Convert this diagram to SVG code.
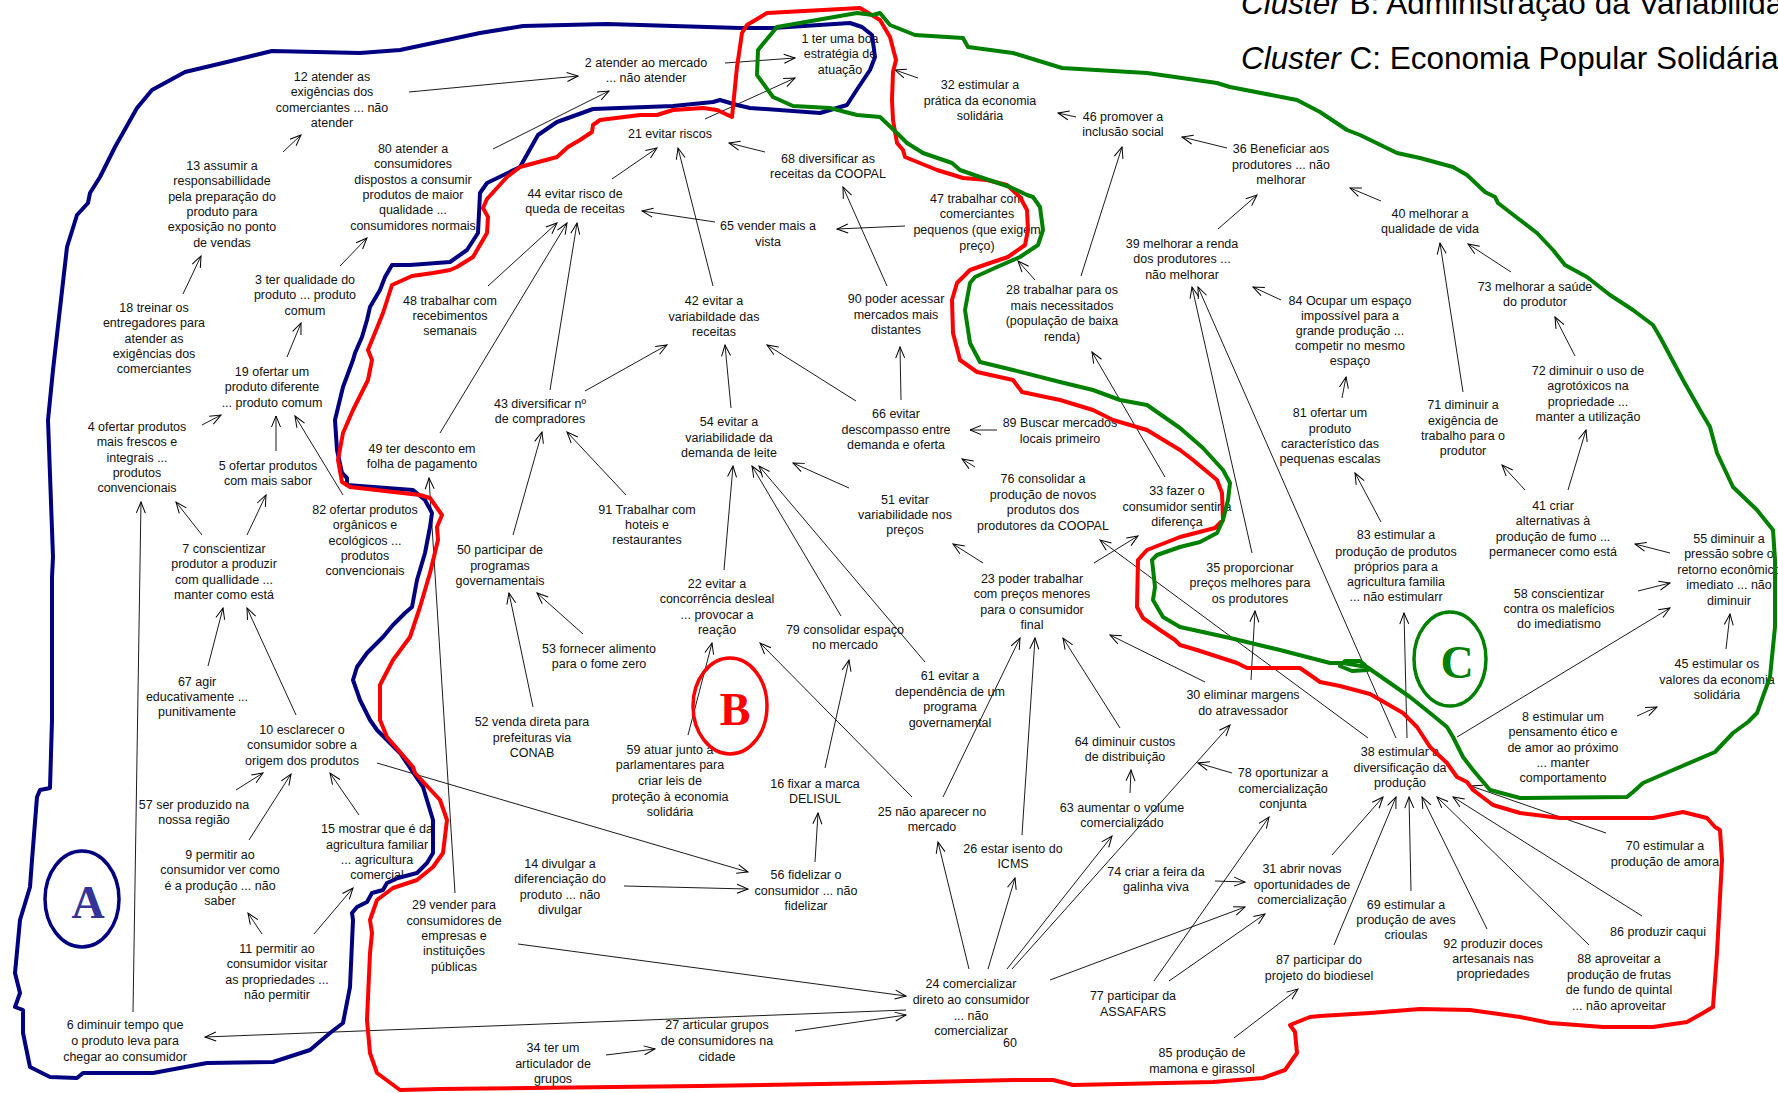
<svg xmlns="http://www.w3.org/2000/svg" width="1778" height="1093" viewBox="0 0 1778 1093">
<style>
  .bg { fill: #ffffff; }
  .node text { font-family: "Liberation Sans", Arial, sans-serif; font-size: 12.5px; fill: #111; text-anchor: middle; }
  .hdr { font-family: "Liberation Sans", Arial, sans-serif; font-size: 31.5px; fill: #000; }
  .edges line { stroke: #000; stroke-width: 0.9; marker-end: url(#ah); }
  .cl { fill: none; stroke-width: 4; stroke-linejoin: round; stroke-linecap: round; }
  .blue { stroke: #000080; }
  .red { stroke: #ff0000; }
  .green { stroke: #008000; }
  .tag { font-family: "Liberation Serif", "Times New Roman", serif; font-size: 46px; font-weight: bold; text-anchor: middle; }
</style>
<defs>
  <marker id="ah" viewBox="-12 -6 13 12" refX="0" refY="0" markerWidth="13" markerHeight="12" markerUnits="userSpaceOnUse" orient="auto">
    <path d="M-11,-4.5 L0,0 L-11,4.5" fill="none" stroke="#000" stroke-width="1"/>
  </marker>
</defs>
<rect class="bg" x="0" y="0" width="1778" height="1093"/>

<!-- header -->
<text class="hdr" x="1241" y="14"><tspan font-style="italic">Cluster</tspan> B: Administração da Variabilidade</text>
<text class="hdr" x="1241" y="69"><tspan font-style="italic">Cluster</tspan> C: Economia Popular Solidária</text>

<!-- connectors -->
<g id="connectors" class="edges">
  <line x1="409" y1="92" x2="578" y2="76"/>
  <line x1="283" y1="152" x2="301" y2="135"/>
  <line x1="340" y1="266" x2="367" y2="238"/>
  <line x1="183" y1="294" x2="201" y2="256"/>
  <line x1="287" y1="357" x2="301" y2="323"/>
  <line x1="725" y1="63" x2="795" y2="58"/>
  <line x1="705" y1="119" x2="795" y2="78"/>
  <line x1="493" y1="149" x2="609" y2="91"/>
  <line x1="612" y1="179" x2="657" y2="148"/>
  <line x1="713" y1="286" x2="678" y2="148"/>
  <line x1="765" y1="152" x2="729" y2="143"/>
  <line x1="715" y1="222" x2="642" y2="211"/>
  <line x1="905" y1="226" x2="837" y2="229"/>
  <line x1="887" y1="286" x2="843" y2="187"/>
  <line x1="488" y1="286" x2="557" y2="223"/>
  <line x1="440" y1="433" x2="567" y2="223"/>
  <line x1="550" y1="390" x2="577" y2="223"/>
  <line x1="918" y1="78" x2="895" y2="70"/>
  <line x1="1076" y1="117" x2="1058" y2="113"/>
  <line x1="1227" y1="148" x2="1182" y2="137"/>
  <line x1="1081" y1="276" x2="1122" y2="147"/>
  <line x1="1218" y1="229" x2="1257" y2="195"/>
  <line x1="1281" y1="300" x2="1253" y2="287"/>
  <line x1="1035" y1="280" x2="1018" y2="261"/>
  <line x1="1165" y1="477" x2="1092" y2="352"/>
  <line x1="1252" y1="553" x2="1192" y2="287"/>
  <line x1="1396" y1="738" x2="1198" y2="287"/>
  <line x1="1368" y1="738" x2="1100" y2="540"/>
  <line x1="1407" y1="738" x2="1404" y2="613"/>
  <line x1="1457" y1="737" x2="1670" y2="608"/>
  <line x1="1381" y1="201" x2="1350" y2="188"/>
  <line x1="1511" y1="272" x2="1468" y2="244"/>
  <line x1="1463" y1="392" x2="1440" y2="243"/>
  <line x1="1575" y1="356" x2="1555" y2="317"/>
  <line x1="1342" y1="398" x2="1346" y2="377"/>
  <line x1="1381" y1="522" x2="1355" y2="473"/>
  <line x1="1525" y1="490" x2="1502" y2="465"/>
  <line x1="1568" y1="490" x2="1586" y2="430"/>
  <line x1="1670" y1="553" x2="1635" y2="544"/>
  <line x1="1638" y1="591" x2="1670" y2="583"/>
  <line x1="1726" y1="649" x2="1730" y2="614"/>
  <line x1="1637" y1="716" x2="1657" y2="707"/>
  <line x1="202" y1="425" x2="221" y2="415"/>
  <line x1="276" y1="451" x2="276" y2="416"/>
  <line x1="343" y1="495" x2="295" y2="416"/>
  <line x1="202" y1="535" x2="176" y2="502"/>
  <line x1="247" y1="535" x2="266" y2="495"/>
  <line x1="208" y1="666" x2="223" y2="608"/>
  <line x1="296" y1="715" x2="247" y2="608"/>
  <line x1="133" y1="1012" x2="141" y2="502"/>
  <line x1="455" y1="893" x2="429" y2="478"/>
  <line x1="585" y1="391" x2="667" y2="345"/>
  <line x1="513" y1="535" x2="542" y2="432"/>
  <line x1="626" y1="495" x2="567" y2="432"/>
  <line x1="724" y1="570" x2="733" y2="466"/>
  <line x1="841" y1="616" x2="752" y2="466"/>
  <line x1="925" y1="662" x2="759" y2="466"/>
  <line x1="849" y1="488" x2="793" y2="463"/>
  <line x1="856" y1="401" x2="767" y2="345"/>
  <line x1="731" y1="408" x2="725" y2="345"/>
  <line x1="583" y1="634" x2="537" y2="593"/>
  <line x1="533" y1="707" x2="509" y2="593"/>
  <line x1="688" y1="735" x2="712" y2="643"/>
  <line x1="912" y1="797" x2="760" y2="643"/>
  <line x1="825" y1="768" x2="849" y2="660"/>
  <line x1="997" y1="430" x2="970" y2="430"/>
  <line x1="975" y1="467" x2="962" y2="459"/>
  <line x1="983" y1="563" x2="953" y2="544"/>
  <line x1="1094" y1="563" x2="1138" y2="536"/>
  <line x1="1205" y1="682" x2="1110" y2="635"/>
  <line x1="1251" y1="680" x2="1255" y2="611"/>
  <line x1="901" y1="400" x2="900" y2="347"/>
  <line x1="943" y1="797" x2="1020" y2="638"/>
  <line x1="1022" y1="835" x2="1035" y2="638"/>
  <line x1="1120" y1="728" x2="1063" y2="638"/>
  <line x1="1130" y1="793" x2="1131" y2="770"/>
  <line x1="969" y1="969" x2="938" y2="842"/>
  <line x1="988" y1="969" x2="1015" y2="878"/>
  <line x1="1007" y1="969" x2="1112" y2="836"/>
  <line x1="1012" y1="969" x2="1230" y2="725"/>
  <line x1="1232" y1="773" x2="1198" y2="763"/>
  <line x1="1050" y1="980" x2="1245" y2="907"/>
  <line x1="1169" y1="981" x2="1265" y2="914"/>
  <line x1="1154" y1="981" x2="1269" y2="817"/>
  <line x1="1215" y1="881" x2="1245" y2="882"/>
  <line x1="1234" y1="1038" x2="1298" y2="989"/>
  <line x1="518" y1="944" x2="906" y2="996"/>
  <line x1="906" y1="1010" x2="205" y2="1037"/>
  <line x1="795" y1="1031" x2="906" y2="1015"/>
  <line x1="606" y1="1055" x2="655" y2="1049"/>
  <line x1="624" y1="886" x2="748" y2="889"/>
  <line x1="377" y1="763" x2="748" y2="872"/>
  <line x1="815" y1="862" x2="818" y2="813"/>
  <line x1="236" y1="790" x2="263" y2="773"/>
  <line x1="249" y1="840" x2="291" y2="774"/>
  <line x1="359" y1="815" x2="330" y2="773"/>
  <line x1="262" y1="934" x2="248" y2="913"/>
  <line x1="314" y1="934" x2="353" y2="888"/>
  <line x1="1332" y1="855" x2="1383" y2="797"/>
  <line x1="1334" y1="945" x2="1396" y2="797"/>
  <line x1="1411" y1="891" x2="1409" y2="797"/>
  <line x1="1487" y1="929" x2="1422" y2="797"/>
  <line x1="1589" y1="945" x2="1437" y2="797"/>
  <line x1="1642" y1="916" x2="1453" y2="797"/>
  <line x1="1606" y1="833" x2="1471" y2="786"/>
</g>

<!-- concept nodes -->
<g class="node" id="n1"><text x="840" y="43"><tspan x="840">1 ter uma boa</tspan><tspan x="840" dy="15.3">estratégia de</tspan><tspan x="840" dy="15.3">atuação</tspan></text></g>
<g class="node" id="n2"><text x="646" y="67"><tspan x="646">2 atender ao mercado</tspan><tspan x="646" dy="15.3">... não atender</tspan></text></g>
<g class="node" id="n3"><text x="305" y="284"><tspan x="305">3 ter qualidade do</tspan><tspan x="305" dy="15.3">produto ... produto</tspan><tspan x="305" dy="15.3">comum</tspan></text></g>
<g class="node" id="n4"><text x="137" y="431"><tspan x="137">4 ofertar produtos</tspan><tspan x="137" dy="15.3">mais frescos e</tspan><tspan x="137" dy="15.3">integrais ...</tspan><tspan x="137" dy="15.3">produtos</tspan><tspan x="137" dy="15.3">convencionais</tspan></text></g>
<g class="node" id="n5"><text x="268" y="470"><tspan x="268">5 ofertar produtos</tspan><tspan x="268" dy="15.3">com mais sabor</tspan></text></g>
<g class="node" id="n6"><text x="125" y="1029"><tspan x="125">6 diminuir tempo que</tspan><tspan x="125" dy="15.8">o produto leva para</tspan><tspan x="125" dy="15.8">chegar ao consumidor</tspan></text></g>
<g class="node" id="n7"><text x="224" y="553"><tspan x="224">7 conscientizar</tspan><tspan x="224" dy="15.3">produtor a produzir</tspan><tspan x="224" dy="15.3">com quallidade ...</tspan><tspan x="224" dy="15.3">manter como está</tspan></text></g>
<g class="node" id="n8"><text x="1563" y="721"><tspan x="1563">8 estimular um</tspan><tspan x="1563" dy="15.3">pensamento ético e</tspan><tspan x="1563" dy="15.3">de amor ao próximo</tspan><tspan x="1563" dy="15.3">... manter</tspan><tspan x="1563" dy="15.3">comportamento</tspan></text></g>
<g class="node" id="n9"><text x="220" y="859"><tspan x="220">9 permitir ao</tspan><tspan x="220" dy="15.3">consumidor ver como</tspan><tspan x="220" dy="15.3">é a produção ... não</tspan><tspan x="220" dy="15.3">saber</tspan></text></g>
<g class="node" id="n10"><text x="302" y="734"><tspan x="302">10 esclarecer o</tspan><tspan x="302" dy="15.3">consumidor sobre a</tspan><tspan x="302" dy="15.3">origem dos produtos</tspan></text></g>
<g class="node" id="n11"><text x="277" y="953"><tspan x="277">11 permitir ao</tspan><tspan x="277" dy="15.3">consumidor visitar</tspan><tspan x="277" dy="15.3">as propriedades ...</tspan><tspan x="277" dy="15.3">não permitir</tspan></text></g>
<g class="node" id="n12"><text x="332" y="81"><tspan x="332">12 atender as</tspan><tspan x="332" dy="15.3">exigências dos</tspan><tspan x="332" dy="15.3">comerciantes ... não</tspan><tspan x="332" dy="15.3">atender</tspan></text></g>
<g class="node" id="n13"><text x="222" y="170"><tspan x="222">13 assumir a</tspan><tspan x="222" dy="15.3">responsabillidade</tspan><tspan x="222" dy="15.3">pela preparação do</tspan><tspan x="222" dy="15.3">produto para</tspan><tspan x="222" dy="15.3">exposição no ponto</tspan><tspan x="222" dy="15.3">de vendas</tspan></text></g>
<g class="node" id="n14"><text x="560" y="868"><tspan x="560">14 divulgar a</tspan><tspan x="560" dy="15.3">diferenciação do</tspan><tspan x="560" dy="15.3">produto ... não</tspan><tspan x="560" dy="15.3">divulgar</tspan></text></g>
<g class="node" id="n15"><text x="377" y="833"><tspan x="377">15 mostrar que é da</tspan><tspan x="377" dy="15.6">agricultura familiar</tspan><tspan x="377" dy="15.3">... agricultura</tspan><tspan x="377" dy="15">comercial</tspan></text></g>
<g class="node" id="n16"><text x="815" y="788"><tspan x="815">16 fixar a marca</tspan><tspan x="815" dy="15.3">DELISUL</tspan></text></g>
<g class="node" id="n18"><text x="154" y="312"><tspan x="154">18 treinar os</tspan><tspan x="154" dy="15.3">entregadores para</tspan><tspan x="154" dy="15.3">atender as</tspan><tspan x="154" dy="15.3">exigências dos</tspan><tspan x="154" dy="15.3">comerciantes</tspan></text></g>
<g class="node" id="n19"><text x="272" y="376"><tspan x="272">19 ofertar um</tspan><tspan x="272" dy="15.3">produto diferente</tspan><tspan x="272" dy="15.3">... produto comum</tspan></text></g>
<g class="node" id="n21"><text x="670" y="138">21 evitar riscos</text></g>
<g class="node" id="n22"><text x="717" y="588"><tspan x="717">22 evitar a</tspan><tspan x="717" dy="15.3">concorrência desleal</tspan><tspan x="717" dy="15.3">... provocar a</tspan><tspan x="717" dy="15.3">reação</tspan></text></g>
<g class="node" id="n23"><text x="1032" y="583"><tspan x="1032">23 poder trabalhar</tspan><tspan x="1032" dy="15.3">com preços menores</tspan><tspan x="1032" dy="15.3">para o consumidor</tspan><tspan x="1032" dy="15.3">final</tspan></text></g>
<g class="node" id="n24"><text x="971" y="988"><tspan x="971">24 comercializar</tspan><tspan x="971" dy="15.8">direto ao consumidor</tspan><tspan x="971" dy="15.8">... não</tspan><tspan x="971" dy="15.8">comercializar</tspan></text></g>
<g class="node" id="n60"><text x="1010" y="1047">60</text></g>
<g class="node" id="n25"><text x="932" y="816"><tspan x="932">25 não aparecer no</tspan><tspan x="932" dy="15.3">mercado</tspan></text></g>
<g class="node" id="n26"><text x="1013" y="853"><tspan x="1013">26 estar isento do</tspan><tspan x="1013" dy="15.3">ICMS</tspan></text></g>
<g class="node" id="n27"><text x="717" y="1029"><tspan x="717">27 articular grupos</tspan><tspan x="717" dy="16">de consumidores na</tspan><tspan x="717" dy="16">cidade</tspan></text></g>
<g class="node" id="n28"><text x="1062" y="294"><tspan x="1062">28 trabalhar para os</tspan><tspan x="1062" dy="15.6">mais necessitados</tspan><tspan x="1062" dy="15.6">(população de baixa</tspan><tspan x="1062" dy="15.3">renda)</tspan></text></g>
<g class="node" id="n29"><text x="454" y="909"><tspan x="454">29 vender para</tspan><tspan x="454" dy="15.6">consumidores de</tspan><tspan x="454" dy="15.3">empresas e</tspan><tspan x="454" dy="15.3">instituições</tspan><tspan x="454" dy="15.6">públicas</tspan></text></g>
<g class="node" id="n30"><text x="1243" y="699"><tspan x="1243">30 eliminar margens</tspan><tspan x="1243" dy="15.6">do atravessador</tspan></text></g>
<g class="node" id="n31"><text x="1302" y="873"><tspan x="1302">31 abrir novas</tspan><tspan x="1302" dy="15.6">oportunidades de</tspan><tspan x="1302" dy="15.3">comercialização</tspan></text></g>
<g class="node" id="n32"><text x="980" y="89"><tspan x="980">32 estimular a</tspan><tspan x="980" dy="15.6">prática da economia</tspan><tspan x="980" dy="15.3">solidária</tspan></text></g>
<g class="node" id="n33"><text x="1177" y="495"><tspan x="1177">33 fazer o</tspan><tspan x="1177" dy="15.6">consumidor sentir a</tspan><tspan x="1177" dy="15.3">diferença</tspan></text></g>
<g class="node" id="n34"><text x="553" y="1052"><tspan x="553">34 ter um</tspan><tspan x="553" dy="15.6">articulador de</tspan><tspan x="553" dy="15.3">grupos</tspan></text></g>
<g class="node" id="n35"><text x="1250" y="572"><tspan x="1250">35 proporcionar</tspan><tspan x="1250" dy="15.3">preços melhores para</tspan><tspan x="1250" dy="15.3">os produtores</tspan></text></g>
<g class="node" id="n36"><text x="1281" y="153"><tspan x="1281">36 Beneficiar aos</tspan><tspan x="1281" dy="15.6">produtores ... não</tspan><tspan x="1281" dy="15.3">melhorar</tspan></text></g>
<g class="node" id="n38"><text x="1400" y="756"><tspan x="1400">38 estimular a</tspan><tspan x="1400" dy="15.6">diversificação da</tspan><tspan x="1400" dy="15.3">produção</tspan></text></g>
<g class="node" id="n39"><text x="1182" y="248"><tspan x="1182">39 melhorar a renda</tspan><tspan x="1182" dy="15.3">dos produtores ...</tspan><tspan x="1182" dy="15.3">não melhorar</tspan></text></g>
<g class="node" id="n40"><text x="1430" y="218"><tspan x="1430">40 melhorar a</tspan><tspan x="1430" dy="15.3">qualidade de vida</tspan></text></g>
<g class="node" id="n41"><text x="1553" y="510"><tspan x="1553">41 criar</tspan><tspan x="1553" dy="15.3">alternativas à</tspan><tspan x="1553" dy="15.6">produção de fumo ...</tspan><tspan x="1553" dy="15.3">permanecer como está</tspan></text></g>
<g class="node" id="n42"><text x="714" y="305"><tspan x="714">42 evitar a</tspan><tspan x="714" dy="15.6">variabildade das</tspan><tspan x="714" dy="15">receitas</tspan></text></g>
<g class="node" id="n43"><text x="540" y="408"><tspan x="540">43 diversificar nº</tspan><tspan x="540" dy="15.3">de compradores</tspan></text></g>
<g class="node" id="n44"><text x="575" y="198"><tspan x="575">44 evitar risco de</tspan><tspan x="575" dy="15.3">queda de receitas</tspan></text></g>
<g class="node" id="n45"><text x="1717" y="668"><tspan x="1717">45 estimular os</tspan><tspan x="1717" dy="15.6">valores da economia</tspan><tspan x="1717" dy="15.6">solidária</tspan></text></g>
<g class="node" id="n46"><text x="1123" y="121"><tspan x="1123">46 promover a</tspan><tspan x="1123" dy="15.3">inclusão social</tspan></text></g>
<g class="node" id="n47"><text x="977" y="203"><tspan x="977">47 trabalhar com</tspan><tspan x="977" dy="15.3">comerciantes</tspan><tspan x="977" dy="15.6">pequenos (que exigem</tspan><tspan x="977" dy="15.6">preço)</tspan></text></g>
<g class="node" id="n48"><text x="450" y="305"><tspan x="450">48 trabalhar com</tspan><tspan x="450" dy="15.3">recebimentos</tspan><tspan x="450" dy="15">semanais</tspan></text></g>
<g class="node" id="n49"><text x="422" y="453"><tspan x="422">49 ter desconto em</tspan><tspan x="422" dy="15.3">folha de pagamento</tspan></text></g>
<g class="node" id="n50"><text x="500" y="554"><tspan x="500">50 participar de</tspan><tspan x="500" dy="15.6">programas</tspan><tspan x="500" dy="15.3">governamentais</tspan></text></g>
<g class="node" id="n51"><text x="905" y="504"><tspan x="905">51 evitar</tspan><tspan x="905" dy="15">variabilidade nos</tspan><tspan x="905" dy="15.3">preços</tspan></text></g>
<g class="node" id="n52"><text x="532" y="726"><tspan x="532">52 venda direta para</tspan><tspan x="532" dy="15.8">prefeituras via</tspan><tspan x="532" dy="15">CONAB</tspan></text></g>
<g class="node" id="n53"><text x="599" y="653"><tspan x="599">53 fornecer alimento</tspan><tspan x="599" dy="15.3">para o fome zero</tspan></text></g>
<g class="node" id="n54"><text x="729" y="426"><tspan x="729">54 evitar a</tspan><tspan x="729" dy="15.6">variabilidade da</tspan><tspan x="729" dy="15.3">demanda de leite</tspan></text></g>
<g class="node" id="n55"><text x="1729" y="543"><tspan x="1729">55 diminuir a</tspan><tspan x="1729" dy="15.3">pressão sobre o</tspan><tspan x="1729" dy="15.3">retorno econômico</tspan><tspan x="1729" dy="15.3">imediato ... não</tspan><tspan x="1729" dy="15.6">diminuir</tspan></text></g>
<g class="node" id="n56"><text x="806" y="879"><tspan x="806">56 fidelizar o</tspan><tspan x="806" dy="15.6">consumidor ... não</tspan><tspan x="806" dy="15.3">fidelizar</tspan></text></g>
<g class="node" id="n57"><text x="194" y="809"><tspan x="194">57 ser produzido na</tspan><tspan x="194" dy="15.3">nossa região</tspan></text></g>
<g class="node" id="n58"><text x="1559" y="598"><tspan x="1559">58 conscientizar</tspan><tspan x="1559" dy="15.3">contra os malefícios</tspan><tspan x="1559" dy="15">do imediatismo</tspan></text></g>
<g class="node" id="n59"><text x="670" y="754"><tspan x="670">59 atuar junto a</tspan><tspan x="670" dy="15.3">parlamentares para</tspan><tspan x="670" dy="15.6">criar leis de</tspan><tspan x="670" dy="15.6">proteção à economia</tspan><tspan x="670" dy="15">solidária</tspan></text></g>
<g class="node" id="n61"><text x="950" y="680"><tspan x="950">61 evitar a</tspan><tspan x="950" dy="15.6">dependência de um</tspan><tspan x="950" dy="15.6">programa</tspan><tspan x="950" dy="15.3">governamental</tspan></text></g>
<g class="node" id="n63"><text x="1122" y="812"><tspan x="1122">63 aumentar o volume</tspan><tspan x="1122" dy="15.3">comercializado</tspan></text></g>
<g class="node" id="n64"><text x="1125" y="746"><tspan x="1125">64 diminuir custos</tspan><tspan x="1125" dy="15.3">de distribuição</tspan></text></g>
<g class="node" id="n65"><text x="768" y="230"><tspan x="768">65 vender mais a</tspan><tspan x="768" dy="15.8">vista</tspan></text></g>
<g class="node" id="n66"><text x="896" y="418"><tspan x="896">66 evitar</tspan><tspan x="896" dy="15.6">descompasso entre</tspan><tspan x="896" dy="15.3">demanda e oferta</tspan></text></g>
<g class="node" id="n67"><text x="197" y="686"><tspan x="197">67 agir</tspan><tspan x="197" dy="15">educativamente ...</tspan><tspan x="197" dy="15">punitivamente</tspan></text></g>
<g class="node" id="n68"><text x="828" y="163"><tspan x="828">68 diversificar as</tspan><tspan x="828" dy="15">receitas da COOPAL</tspan></text></g>
<g class="node" id="n69"><text x="1406" y="909"><tspan x="1406">69 estimular a</tspan><tspan x="1406" dy="15">produção de aves</tspan><tspan x="1406" dy="15">crioulas</tspan></text></g>
<g class="node" id="n70"><text x="1665" y="850"><tspan x="1665">70 estimular a</tspan><tspan x="1665" dy="15.6">produção de amora</tspan></text></g>
<g class="node" id="n71"><text x="1463" y="409"><tspan x="1463">71 diminuir a</tspan><tspan x="1463" dy="15.6">exigência de</tspan><tspan x="1463" dy="15.6">trabalho para o</tspan><tspan x="1463" dy="15">produtor</tspan></text></g>
<g class="node" id="n72"><text x="1588" y="375"><tspan x="1588">72 diminuir o uso de</tspan><tspan x="1588" dy="15">agrotóxicos na</tspan><tspan x="1588" dy="16">propriedade ...</tspan><tspan x="1588" dy="15">manter a utilização</tspan></text></g>
<g class="node" id="n73"><text x="1535" y="291"><tspan x="1535">73 melhorar a saúde</tspan><tspan x="1535" dy="15">do produtor</tspan></text></g>
<g class="node" id="n74"><text x="1156" y="876"><tspan x="1156">74 criar a feira da</tspan><tspan x="1156" dy="15">galinha viva</tspan></text></g>
<g class="node" id="n76"><text x="1043" y="483"><tspan x="1043">76 consolidar a</tspan><tspan x="1043" dy="15.6">produção de novos</tspan><tspan x="1043" dy="15.3">produtos dos</tspan><tspan x="1043" dy="15.6">produtores da COOPAL</tspan></text></g>
<g class="node" id="n77"><text x="1133" y="1000"><tspan x="1133">77 participar da</tspan><tspan x="1133" dy="15.6">ASSAFARS</tspan></text></g>
<g class="node" id="n78"><text x="1283" y="777"><tspan x="1283">78 oportunizar a</tspan><tspan x="1283" dy="15.6">comercialização</tspan><tspan x="1283" dy="15">conjunta</tspan></text></g>
<g class="node" id="n79"><text x="845" y="634"><tspan x="845">79 consolidar espaço</tspan><tspan x="845" dy="15">no mercado</tspan></text></g>
<g class="node" id="n80"><text x="413" y="153"><tspan x="413">80 atender a</tspan><tspan x="413" dy="15.3">consumidores</tspan><tspan x="413" dy="15.3">dispostos a consumir</tspan><tspan x="413" dy="15.3">produtos de maior</tspan><tspan x="413" dy="15.3">qualidade ...</tspan><tspan x="413" dy="15.3">consumidores normais</tspan></text></g>
<g class="node" id="n81"><text x="1330" y="417"><tspan x="1330">81 ofertar um</tspan><tspan x="1330" dy="15.6">produto</tspan><tspan x="1330" dy="15.3">característico das</tspan><tspan x="1330" dy="15.3">pequenas escalas</tspan></text></g>
<g class="node" id="n82"><text x="365" y="514"><tspan x="365">82 ofertar produtos</tspan><tspan x="365" dy="15">orgânicos e</tspan><tspan x="365" dy="15.6">ecológicos ...</tspan><tspan x="365" dy="15.3">produtos</tspan><tspan x="365" dy="15">convencionais</tspan></text></g>
<g class="node" id="n83"><text x="1396" y="539"><tspan x="1396">83 estimular a</tspan><tspan x="1396" dy="16.6">produção de produtos</tspan><tspan x="1396" dy="15">próprios para a</tspan><tspan x="1396" dy="15.6">agricultura familia</tspan><tspan x="1396" dy="15">... não estimularr</tspan></text></g>
<g class="node" id="n84"><text x="1350" y="305"><tspan x="1350">84 Ocupar um espaço</tspan><tspan x="1350" dy="15">impossível para a</tspan><tspan x="1350" dy="15">grande produção ...</tspan><tspan x="1350" dy="14.6">competir no mesmo</tspan><tspan x="1350" dy="15">espaço</tspan></text></g>
<g class="node" id="n85"><text x="1202" y="1057"><tspan x="1202">85 produção de</tspan><tspan x="1202" dy="16">mamona e girassol</tspan></text></g>
<g class="node" id="n86"><text x="1658" y="936">86 produzir caqui</text></g>
<g class="node" id="n87"><text x="1319" y="964"><tspan x="1319">87 participar do</tspan><tspan x="1319" dy="16">projeto do biodiesel</tspan></text></g>
<g class="node" id="n88"><text x="1619" y="963"><tspan x="1619">88 aproveitar a</tspan><tspan x="1619" dy="16">produção de frutas</tspan><tspan x="1619" dy="15">de fundo de quintal</tspan><tspan x="1619" dy="16">... não aproveitar</tspan></text></g>
<g class="node" id="n89"><text x="1060" y="427"><tspan x="1060">89 Buscar mercados</tspan><tspan x="1060" dy="15.6">locais primeiro</tspan></text></g>
<g class="node" id="n90"><text x="896" y="303"><tspan x="896">90 poder acessar</tspan><tspan x="896" dy="16">mercados mais</tspan><tspan x="896" dy="15">distantes</tspan></text></g>
<g class="node" id="n91"><text x="647" y="514"><tspan x="647">91 Trabalhar com</tspan><tspan x="647" dy="15">hoteis e</tspan><tspan x="647" dy="15">restaurantes</tspan></text></g>
<g class="node" id="n92"><text x="1493" y="948"><tspan x="1493">92 produzir doces</tspan><tspan x="1493" dy="15">artesanais nas</tspan><tspan x="1493" dy="15">propriedades</tspan></text></g>

<!-- cluster outlines -->
<g id="clusters">
  <path class="cl blue" d="M53,370 L67,247 L77,215 L88,203 L90,193 L100,177 L115,147 L137,108 L152,90 L185,72 L227,62 L272,51 L360,53 L400,50 L433,43 L480,33 L523,26 L607,24 L740,28 L773,28 L850,23 L862,27 L872,35 L875,57 L870,70 L858,88 L847,105 L820,113 L750,108 L737,105 L720,100 L713,102 L673,106 L593,109 L557,122 L538,135 L520,167 L487,183 L480,193 L478,233 L467,250 L450,262 L410,265 L392,265 L385,277 L380,290 L370,307 L367,320 L362,337 L355,353 L353,360 L343,387 L335,420 L337,450 L342,473 L347,478 L347,485 L413,490 L425,500 L432,513 L430,527 L425,553 L417,580 L412,607 L405,613 L393,625 L383,637 L367,653 L357,667 L353,680 L360,700 L370,720 L377,730 L400,753 L423,787 L433,820 L433,853 L427,863 L417,873 L398,878 L387,883 L383,890 L372,893 L367,902 L357,907 L352,913 L353,920 L350,987 L343,1023 L330,1033 L310,1050 L273,1062 L207,1063 L153,1073 L83,1073 L77,1078 L50,1077 L30,1067 L23,1033 L23,1010 L15,1007 L20,993 L15,973 L20,920 L30,887 L32,860 L37,797 L40,790 L50,788 L52,720 L52,577 L53,557 L48,420 Z"/>
  <path class="cl red" d="M747,25 L767,13 L860,8 L880,20 L890,37 L896,60 L893,72 L892,100 L893,120 L897,143 L903,150 L905,157 L937,170 L963,178 L987,180 L1007,185 L1020,197 L1027,210 L1028,230 L1025,245 L1008,257 L990,263 L970,270 L957,283 L952,300 L953,333 L960,360 L977,372 L1013,380 L1022,392 L1060,400 L1093,410 L1113,420 L1147,430 L1180,450 L1193,460 L1217,480 L1222,493 L1223,520 L1215,528 L1180,537 L1147,550 L1138,560 L1137,607 L1143,618 L1160,630 L1175,640 L1180,645 L1197,650 L1237,663 L1247,668 L1300,668 L1313,677 L1320,682 L1340,686 L1370,694 L1403,713 L1417,727 L1430,747 L1447,763 L1457,777 L1467,782 L1473,790 L1493,805 L1520,813 L1560,818 L1653,818 L1683,812 L1707,818 L1715,827 L1720,830 L1722,860 L1717,953 L1713,1007 L1703,1013 L1687,1022 L1653,1027 L1603,1027 L1550,1023 L1520,1017 L1470,1010 L1420,1009 L1370,1013 L1320,1016 L1310,1017 L1290,1025 L1295,1032 L1297,1053 L1285,1070 L1263,1078 L1213,1082 L1073,1085 L1053,1080 L1013,1080 L880,1083 L700,1086 L440,1089 L400,1090 L377,1073 L370,1053 L367,1020 L370,953 L372,933 L370,920 L377,900 L393,888 L417,880 L433,867 L443,853 L447,820 L440,800 L415,773 L413,767 L387,737 L380,720 L380,685 L393,660 L410,637 L420,607 L430,573 L438,540 L437,527 L442,515 L430,498 L420,495 L350,487 L342,482 L338,460 L343,433 L353,410 L368,380 L372,360 L368,350 L383,313 L392,285 L412,276 L433,273 L450,270 L457,267 L473,257 L487,233 L488,217 L483,208 L487,199 L507,177 L520,167 L557,157 L568,147 L580,140 L592,132 L593,125 L600,120 L640,115 L657,115 L673,110 L703,108 L717,110 L732,117 L733,107 L737,67 L742,33 Z"/>
  <path class="cl green" d="M897,133 L880,117 L857,115 L830,108 L793,106 L773,97 L757,75 L758,50 L777,27 L817,20 L857,13 L873,15 L880,13 L890,25 L915,35 L963,38 L968,47 L1013,53 L1062,68 L1147,73 L1217,83 L1230,87 L1297,100 L1320,112 L1347,130 L1360,135 L1397,153 L1420,158 L1453,167 L1467,175 L1485,192 L1495,197 L1498,203 L1520,220 L1537,233 L1553,250 L1565,265 L1587,277 L1610,295 L1633,310 L1653,325 L1660,337 L1667,350 L1675,365 L1683,380 L1700,410 L1710,427 L1717,453 L1733,487 L1757,510 L1773,530 L1775,560 L1775,627 L1770,677 L1757,713 L1748,722 L1733,733 L1715,752 L1673,770 L1643,783 L1633,792 L1627,797 L1520,798 L1490,790 L1473,770 L1463,757 L1453,737 L1447,727 L1430,713 L1410,697 L1367,667 L1343,663 L1330,663 L1280,650 L1230,638 L1180,627 L1163,617 L1153,600 L1155,587 L1152,560 L1157,555 L1180,547 L1200,542 L1217,533 L1223,520 L1228,500 L1230,483 L1223,470 L1203,448 L1180,428 L1147,405 L1120,400 L1093,390 L1060,382 L1013,370 L980,362 L970,343 L965,310 L970,283 L975,277 L997,267 L1020,257 L1038,245 L1043,230 L1040,207 L1033,197 L1027,195 L1010,187 L980,177 L960,170 L952,163 L923,153 L907,143 Z"/>
  <path class="cl green" d="M1365,665 L1360,661 L1345,661 L1340,666 L1352,671 L1368,670"/>
</g>

<!-- cluster tags -->
<g id="tagA">
  <ellipse cx="82" cy="899" rx="37" ry="48" fill="none" stroke="#000080" stroke-width="3.5"/>
  <text class="tag" x="88" y="918" fill="#333399">A</text>
</g>
<g id="tagB">
  <ellipse cx="730" cy="706" rx="37" ry="48" fill="none" stroke="#ff0000" stroke-width="3.5"/>
  <text class="tag" x="735" y="725" fill="#ff0000">B</text>
</g>
<g id="tagC">
  <ellipse cx="1450" cy="659" rx="36" ry="47" fill="none" stroke="#008000" stroke-width="3.5"/>
  <text class="tag" x="1457" y="678" fill="#008000">C</text>
</g>
</svg>
